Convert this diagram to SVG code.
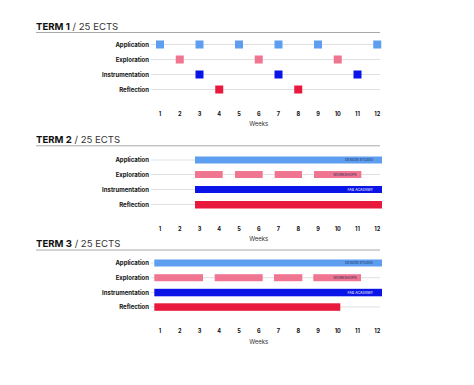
<svg xmlns="http://www.w3.org/2000/svg" width="474" height="385" viewBox="0 0 474 385">
<style>
.bg{fill:#ffffff}
.title{font-family:Inter,"Liberation Sans",sans-serif;font-size:9.6px;fill:#111}
.title .b{font-weight:700}
.title .r{font-weight:400;fill:#333}
.rule{stroke:#a8a8a8;stroke-width:1}
.grid line{stroke:#dddddd;stroke-width:0.9}
.lbl{font-family:Inter,"Liberation Sans",sans-serif;font-size:6px;font-weight:700;fill:#111;text-anchor:end}
.wk{font-family:Inter,"Liberation Sans",sans-serif;font-size:5.6px;font-weight:700;fill:#111;text-anchor:middle}
.wks{font-family:Inter,"Liberation Sans",sans-serif;font-size:6px;fill:#333;text-anchor:middle}
.app{fill:#5e9ef0}
.exp{fill:#f07591}
.ins{fill:#0a14e6}
.ref{fill:#e8193d}
.tag{font-family:Inter,"Liberation Sans",sans-serif;font-size:3.6px;text-anchor:end}
.tagd{fill:#1a2a55}
.tagw{fill:#ffffff}
</style>
<defs>
<g id="vgrid">
<line x1="160" y1="0" x2="160" y2="66"/>
<line x1="179.75" y1="0" x2="179.75" y2="66"/>
<line x1="199.5" y1="0" x2="199.5" y2="66"/>
<line x1="219.25" y1="0" x2="219.25" y2="66"/>
<line x1="239" y1="0" x2="239" y2="66"/>
<line x1="258.75" y1="0" x2="258.75" y2="66"/>
<line x1="278.5" y1="0" x2="278.5" y2="66"/>
<line x1="298.25" y1="0" x2="298.25" y2="66"/>
<line x1="318" y1="0" x2="318" y2="66"/>
<line x1="337.75" y1="0" x2="337.75" y2="66"/>
<line x1="357.5" y1="0" x2="357.5" y2="66"/>
<line x1="377.25" y1="0" x2="377.25" y2="66"/>
<line x1="151" y1="66" x2="380" y2="66"/>
</g>
<g id="weeks">
<text class="wk" x="160" y="0">1</text>
<text class="wk" x="179.75" y="0">2</text>
<text class="wk" x="199.5" y="0">3</text>
<text class="wk" x="219.25" y="0">4</text>
<text class="wk" x="239" y="0">5</text>
<text class="wk" x="258.75" y="0">6</text>
<text class="wk" x="278.5" y="0">7</text>
<text class="wk" x="298.25" y="0">8</text>
<text class="wk" x="318" y="0">9</text>
<text class="wk" x="337.75" y="0">10</text>
<text class="wk" x="357.5" y="0">11</text>
<text class="wk" x="377.25" y="0">12</text>
<text class="wks" x="258.75" y="10.5">Weeks</text>
</g>
</defs>
<rect class="bg" width="474" height="385"/>

<!-- TERM 1 -->
<g id="term1">
<text class="title" x="36" y="29.5"><tspan class="b">TERM 1</tspan><tspan class="r"> / 25 ECTS</tspan></text>
<line class="rule" x1="36" y1="32.5" x2="380" y2="32.5"/>
<g class="grid">
<use href="#vgrid" y="38"/>
<line x1="151" y1="44.5" x2="380" y2="44.5"/>
<line x1="151" y1="59.5" x2="380" y2="59.5"/>
<line x1="151" y1="74.5" x2="380" y2="74.5"/>
<line x1="151" y1="89.5" x2="380" y2="89.5"/>
</g>
<text class="lbl" x="149" y="46.6">Application</text>
<text class="lbl" x="149" y="61.6">Exploration</text>
<text class="lbl" x="149" y="76.6">Instrumentation</text>
<text class="lbl" x="149" y="91.6">Reflection</text>
<g id="t1-application" class="app">
<rect x="156" y="40.5" width="8" height="8"/>
<rect x="195.5" y="40.5" width="8" height="8"/>
<rect x="235" y="40.5" width="8" height="8"/>
<rect x="274.5" y="40.5" width="8" height="8"/>
<rect x="314" y="40.5" width="8" height="8"/>
<rect x="373.25" y="40.5" width="8" height="8"/>
</g>
<g id="t1-exploration" class="exp">
<rect x="175.75" y="55.5" width="8" height="8"/>
<rect x="254.75" y="55.5" width="8" height="8"/>
<rect x="333.75" y="55.5" width="8" height="8"/>
</g>
<g id="t1-instrumentation" class="ins">
<rect x="195.5" y="70.5" width="8" height="8"/>
<rect x="274.5" y="70.5" width="8" height="8"/>
<rect x="353.5" y="70.5" width="8" height="8"/>
</g>
<g id="t1-reflection" class="ref">
<rect x="215.25" y="85.5" width="8" height="8"/>
<rect x="294.25" y="85.5" width="8" height="8"/>
</g>
<use href="#weeks" y="115.5"/>
</g>

<!-- TERM 2 -->
<g id="term2">
<text class="title" x="36" y="142.8"><tspan class="b">TERM 2</tspan><tspan class="r"> / 25 ECTS</tspan></text>
<line class="rule" x1="36" y1="145.8" x2="380" y2="145.8"/>
<g class="grid">
<use href="#vgrid" y="153"/>
<line x1="151" y1="160" x2="380" y2="160"/>
<line x1="151" y1="174.5" x2="380" y2="174.5"/>
<line x1="151" y1="189.5" x2="380" y2="189.5"/>
<line x1="151" y1="204.5" x2="380" y2="204.5"/>
</g>
<text class="lbl" x="149" y="162.1">Application</text>
<text class="lbl" x="149" y="176.6">Exploration</text>
<text class="lbl" x="149" y="191.6">Instrumentation</text>
<text class="lbl" x="149" y="206.6">Reflection</text>
<g id="t2-application">
<rect class="app" x="195" y="156.5" width="187" height="7"/>
<text class="tag tagd" x="373" y="161.3">DESIGN STUDIO</text>
</g>
<g id="t2-exploration">
<rect class="exp" x="195" y="171" width="27.7" height="7"/>
<rect class="exp" x="235" y="171" width="27.7" height="7"/>
<rect class="exp" x="274.7" y="171" width="27.3" height="7"/>
<rect class="exp" x="314" y="171" width="47.3" height="7"/>
<text class="tag tagd" x="356.5" y="175.8">WORKSHOPS</text>
</g>
<g id="t2-instrumentation">
<rect class="ins" x="195" y="186" width="187" height="7"/>
<text class="tag tagw" x="373" y="190.8">FAB ACADEMY</text>
</g>
<g id="t2-reflection">
<rect class="ref" x="195" y="201" width="187" height="7.5"/>
</g>
<use href="#weeks" y="230.5"/>
</g>

<!-- TERM 3 -->
<g id="term3">
<text class="title" x="36" y="246.8"><tspan class="b">TERM 3</tspan><tspan class="r"> / 25 ECTS</tspan></text>
<line class="rule" x1="36" y1="250" x2="380" y2="250"/>
<g class="grid">
<use href="#vgrid" y="256"/>
<line x1="151" y1="263" x2="380" y2="263"/>
<line x1="151" y1="277.7" x2="380" y2="277.7"/>
<line x1="151" y1="292.5" x2="380" y2="292.5"/>
<line x1="151" y1="307" x2="380" y2="307"/>
</g>
<text class="lbl" x="149" y="265.1">Application</text>
<text class="lbl" x="149" y="279.8">Exploration</text>
<text class="lbl" x="149" y="294.6">Instrumentation</text>
<text class="lbl" x="149" y="309.1">Reflection</text>
<g id="t3-application">
<rect class="app" x="154.3" y="259.5" width="227.7" height="7"/>
<text class="tag tagd" x="373" y="264.3">DESIGN STUDIO</text>
</g>
<g id="t3-exploration">
<rect class="exp" x="154.3" y="274.2" width="48.7" height="7"/>
<rect class="exp" x="214.7" y="274.2" width="48" height="7"/>
<rect class="exp" x="274" y="274.2" width="28.3" height="7"/>
<rect class="exp" x="313.3" y="274.2" width="47.7" height="7"/>
<text class="tag tagd" x="356.5" y="279">WORKSHOPS</text>
</g>
<g id="t3-instrumentation">
<rect class="ins" x="154.3" y="288.8" width="227.7" height="7.5"/>
<text class="tag tagw" x="373" y="293.8">FAB ACADEMY</text>
</g>
<g id="t3-reflection">
<rect class="ref" x="154.3" y="303.3" width="186" height="7.5"/>
</g>
<use href="#weeks" y="333"/>
</g>
</svg>
